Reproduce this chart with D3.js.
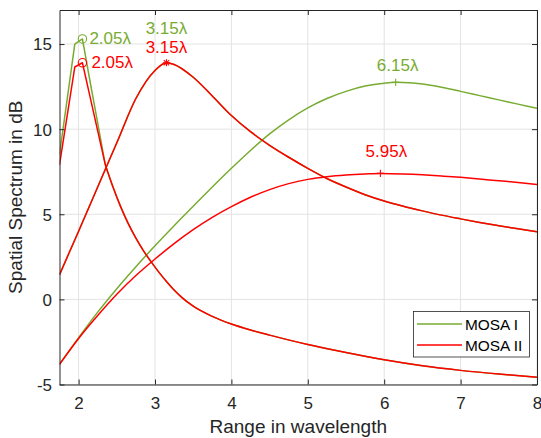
<!DOCTYPE html>
<html><head><meta charset="utf-8">
<script src="https://cdn.jsdelivr.net/npm/d3@7"></script>
<style>
body{margin:0;background:#fff}
svg{display:block}
text{font-family:"Liberation Sans",Arial,Helvetica,sans-serif}
</style>
</head><body>
<svg id="chart" width="541" height="438"></svg>
<script>
// ---------- data ----------
const xTicks = [2, 3, 4, 5, 6, 7, 8];
const yTicks = [-5, 0, 5, 10, 15];
const seriesNames = ["MOSA I", "MOSA II"];
const xLabel = "Range in wavelength";
const yLabel = "Spatial Spectrum in dB";

// target 1 (sharp peak), sampled coarsely
const peakX     = [1.75, 1.85, 1.95, 2.05, 2.15, 2.25, 2.35];
const mosa1Peak = [8.5, 11.75, 15.0, 15.3, 12.8, 10.35, 7.9];
const mosa2Peak = [7.9, 10.78, 13.65, 13.9, 11.9, 9.9, 7.9];
// shared tail of target 1
const tailX    = [2.35, 2.45, 2.55, 2.65, 2.75, 2.85, 2.95, 3.05, 3.15, 3.25, 3.35, 3.5, 3.75, 4.0, 4.25, 4.5, 5.0, 5.5, 6.0, 6.5, 7.0, 7.5, 8.0];
const tailVals = [7.9, 6.6, 5.45, 4.45, 3.6, 2.85, 2.2, 1.6, 1.05, 0.55, 0.12, -0.4, -1.0, -1.45, -1.8, -2.1, -2.65, -3.12, -3.55, -3.9, -4.17, -4.39, -4.57];

// target 2 (peak at 3.15), same for both
const midX    = [1.75, 2.0, 2.25, 2.5, 2.75, 3.0, 3.15, 3.25, 3.5, 3.75, 4.0, 4.25, 4.5, 4.75, 5.0, 5.25, 5.5, 5.75, 6.0, 6.25, 6.5, 6.75, 7.0, 7.25, 7.5, 7.75, 8.0];
const midVals = [1.45, 4.0, 6.6, 9.2, 11.8, 13.45, 13.9, 13.8, 13.05, 11.95, 10.8, 9.85, 9.05, 8.35, 7.7, 7.1, 6.6, 6.15, 5.78, 5.47, 5.2, 4.95, 4.73, 4.52, 4.33, 4.15, 3.97];

// target 3
const far1X    = [1.75, 2.0, 2.25, 2.5, 2.75, 3.0, 3.25, 3.5, 3.75, 4.0, 4.25, 4.5, 4.75, 5.0, 5.25, 5.5, 5.75, 6.0, 6.15, 6.25, 6.5, 6.75, 7.0, 7.25, 7.5, 7.75, 8.0];
const mosa1Far = [-3.82, -2.25, -0.75, 0.63, 1.92, 3.15, 4.33, 5.47, 6.6, 7.7, 8.75, 9.72, 10.55, 11.25, 11.8, 12.22, 12.53, 12.7, 12.75, 12.74, 12.65, 12.46, 12.22, 11.97, 11.72, 11.47, 11.22];
const far2X    = [1.75, 2.0, 2.25, 2.5, 2.75, 3.0, 3.25, 3.5, 3.75, 4.0, 4.25, 4.5, 4.75, 5.0, 5.25, 5.5, 5.75, 5.95, 6.25, 6.5, 6.75, 7.0, 7.25, 7.5, 7.75, 8.0];
const mosa2Far = [-3.82, -2.3, -0.95, 0.3, 1.4, 2.37, 3.28, 4.1, 4.82, 5.45, 6.0, 6.45, 6.8, 7.05, 7.21, 7.31, 7.37, 7.4, 7.37, 7.32, 7.25, 7.17, 7.07, 6.97, 6.87, 6.75];

// detected peaks
const mosa1PeakX = [2.05, 3.15, 6.15];
const mosa1PeakY = [15.3, 13.9, 12.75];
const mosa1Marks = ["circle", "none", "plus"];
const mosa1Text  = ["2.05λ", "3.15λ", "6.15λ"];
const mosa2PeakX = [2.05, 3.15, 5.95];
const mosa2PeakY = [13.9, 13.9, 7.4];
const mosa2Marks = ["circle", "star", "plus"];
const mosa2Text  = ["2.05λ", "3.15λ", "5.95λ"];

// ---------- layout / style ----------
const L = 59.5, R = 537, T = 10, B = 384.5;
const colors = ["#77AC30", "#FF0000"];
const axisColor = "#262626";
const gridColor = "#e3e3e3";
const lw = 1.5;
// label offsets [dx, dy, anchor]
const mosa1LabelPos = [[7, 5, "start"], [0, -28.5, "middle"], [2, -11.5, "middle"]];
const mosa2LabelPos = [[9, 5, "start"], [0, -9.5, "middle"], [6, -16.5, "middle"]];

const svg = d3.select("#chart");
const x = d3.scaleLinear().domain([1.75, 8]).range([L, R]);
const y = d3.scaleLinear().domain([-5, 17]).range([B, T]);

// grid
const grid = svg.append("g");
grid.selectAll(".gx").data(xTicks).join("line")
  .attr("x1", d => x(d)).attr("x2", d => x(d)).attr("y1", T).attr("y2", B)
  .attr("stroke", gridColor).attr("stroke-width", 1);
grid.selectAll(".gy").data(yTicks).join("line")
  .attr("y1", d => y(d)).attr("y2", d => y(d)).attr("x1", L).attr("x2", R)
  .attr("stroke", gridColor).attr("stroke-width", 1);

// clip
svg.append("clipPath").attr("id", "clip").append("rect")
  .attr("x", L).attr("y", T).attr("width", R - L).attr("height", B - T);
const plot = svg.append("g").attr("clip-path", "url(#clip)");

const linLine = d3.line().x(d => x(d[0])).y(d => y(d[1])).curve(d3.curveLinear);
const smLine = d3.line().x(d => x(d[0])).y(d => y(d[1])).curve(d3.curveMonotoneX);
const zip = (xs, ys) => xs.map((v, i) => [v, ys[i]]);

function drawSeries(color, peakVals, farX, farVals) {
  plot.append("path").attr("d", linLine(zip(peakX, peakVals)) + smLine(zip(tailX, tailVals)))
    .attr("fill", "none").attr("stroke", color).attr("stroke-width", lw).attr("stroke-linejoin", "round");
  plot.append("path").attr("d", smLine(zip(midX, midVals)))
    .attr("fill", "none").attr("stroke", color).attr("stroke-width", lw);
  plot.append("path").attr("d", smLine(zip(farX, farVals)))
    .attr("fill", "none").attr("stroke", color).attr("stroke-width", lw);
}
function drawMarks(color, px, py, marks) {
  px.forEach((v, i) => {
    const cx = x(v), cy = y(py[i]);
    const g = plot.append("g").attr("stroke", color).attr("stroke-width", 1.1).attr("fill", "none");
    if (marks[i] === "circle") g.append("circle").attr("cx", cx).attr("cy", cy).attr("r", 4.2);
    if (marks[i] === "plus" || marks[i] === "star") {
      const s = 3.6;
      g.append("line").attr("x1", cx - s).attr("x2", cx + s).attr("y1", cy).attr("y2", cy);
      g.append("line").attr("x1", cx).attr("x2", cx).attr("y1", cy - s).attr("y2", cy + s);
      if (marks[i] === "star") {
        const d = s * 0.75;
        g.append("line").attr("x1", cx - d).attr("x2", cx + d).attr("y1", cy - d).attr("y2", cy + d);
        g.append("line").attr("x1", cx - d).attr("x2", cx + d).attr("y1", cy + d).attr("y2", cy - d);
      }
    }
  });
}
drawSeries(colors[0], mosa1Peak, far1X, mosa1Far);
drawMarks(colors[0], mosa1PeakX, mosa1PeakY, mosa1Marks);
drawSeries(colors[1], mosa2Peak, far2X, mosa2Far);
drawMarks(colors[1], mosa2PeakX, mosa2PeakY, mosa2Marks);

// peak labels
function drawLabels(color, px, py, txt, pos) {
  px.forEach((v, i) => {
    svg.append("text").attr("x", x(v) + pos[i][0]).attr("y", y(py[i]) + pos[i][1])
      .attr("text-anchor", pos[i][2]).attr("fill", color).attr("font-size", 17).text(txt[i]);
  });
}
drawLabels(colors[0], mosa1PeakX, mosa1PeakY, mosa1Text, mosa1LabelPos);
drawLabels(colors[1], mosa2PeakX, mosa2PeakY, mosa2Text, mosa2LabelPos);

// axes
const fmt = d => String(d);
function styleAxis(g) {
  g.selectAll("path.domain").attr("stroke", axisColor).attr("stroke-width", 1);
  g.selectAll(".tick line").attr("stroke", axisColor).attr("stroke-width", 1);
  g.selectAll("text").attr("fill", axisColor).attr("font-size", 17)
    .attr("font-family", '"Liberation Sans",Arial,sans-serif');
}
svg.append("g").attr("transform", `translate(0,${B})`)
  .call(d3.axisBottom(x).tickValues(xTicks).tickSize(-5).tickSizeOuter(0).tickPadding(12.5).tickFormat(fmt))
  .call(styleAxis);
svg.append("g").attr("transform", `translate(0,${T})`)
  .call(d3.axisTop(x).tickValues(xTicks).tickSize(-5).tickSizeOuter(0).tickFormat(""))
  .call(styleAxis);
svg.append("g").attr("transform", `translate(${L},0)`)
  .call(d3.axisLeft(y).tickValues(yTicks).tickSize(-5).tickSizeOuter(0).tickPadding(7.5).tickFormat(fmt))
  .call(styleAxis)
  .selectAll("text").attr("x", -7.5).attr("dy", "0.35em").attr("text-anchor", "end");
svg.append("g").attr("transform", `translate(${R},0)`)
  .call(d3.axisRight(y).tickValues(yTicks).tickSize(-5).tickSizeOuter(0).tickFormat(""))
  .call(styleAxis);

// axis labels
svg.append("text").attr("x", (L + R) / 2).attr("y", 433).attr("text-anchor", "middle")
  .attr("fill", axisColor).attr("font-size", 19).text(xLabel);
svg.append("text").attr("transform", `translate(22,${(T + B) / 2}) rotate(-90)`).attr("text-anchor", "middle")
  .attr("fill", axisColor).attr("font-size", 19).text(yLabel);

// legend
const lg = svg.append("g");
lg.append("rect").attr("x", 413.5).attr("y", 311.5).attr("width", 116).attr("height", 45.5)
  .attr("fill", "#fff").attr("stroke", axisColor).attr("stroke-width", 0.8);
seriesNames.forEach((n, i) => {
  const ly = 324 + i * 21;
  lg.append("line").attr("x1", 417).attr("x2", 462).attr("y1", ly).attr("y2", ly)
    .attr("stroke", colors[i]).attr("stroke-width", lw);
  lg.append("text").attr("x", 465).attr("y", ly + 6).attr("font-size", 15.4).attr("fill", "#000").text(n);
});
</script>
</body></html>
